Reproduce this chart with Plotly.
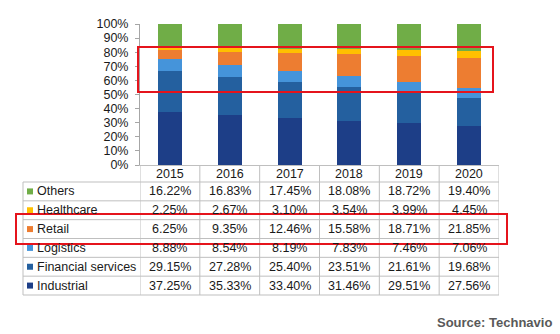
import plotly.graph_objects as go

# Market share by end-user segment (%)
years = ["2015", "2016", "2017", "2018", "2019", "2020"]
segments = ["Others", "Healthcare", "Retail", "Logistics", "Financial services", "Industrial"]
others = [16.22, 16.83, 17.45, 18.08, 18.72, 19.40]
healthcare = [2.25, 2.67, 3.10, 3.54, 3.99, 4.45]
retail = [6.25, 9.35, 12.46, 15.58, 18.71, 21.85]
logistics = [8.88, 8.54, 8.19, 7.83, 7.46, 7.06]
financial = [29.15, 27.28, 25.40, 23.51, 21.61, 19.68]
industrial = [37.25, 35.33, 33.40, 31.46, 29.51, 27.56]
colors = ["#70AD47", "#FFC000", "#ED7D31", "#4594DA", "#24609F", "#1D3E87"]

series = [others, healthcare, retail, logistics, financial, industrial]

W, H = 560, 334
FONT = "Liberation Sans, Arial, sans-serif"
FS = 12.5
TXT = "#1A1A1A"
GRID = "#BFBFBF"


def px(x):
    return x / W


def py(y):
    return 1 - y / H


fig = go.Figure()

# stack from the bottom: Industrial first, Others on top
for name, vals, col in reversed(list(zip(segments, series, colors))):
    fig.add_trace(go.Bar(
        x=years, y=vals, name=name, width=0.4,
        marker=dict(color=col, line=dict(width=0)),
        showlegend=False,
    ))

# plot area geometry (pixels)
x_left, x_right = 140, 499
y_top, y_axis = 24, 165
tbl_left = 23
hdr_bottom = 182
tbl_bottom = 295
row_h = (tbl_bottom - hdr_bottom) / len(segments)

shapes = []
annotations = []

# vertical grid of the data table (column boundaries follow the category axis)
for k in range(len(years) + 1):
    shapes.append(dict(type="line", xref="x", yref="paper",
                       x0=k - 0.5, x1=k - 0.5, y0=py(y_axis), y1=py(tbl_bottom),
                       line=dict(color=GRID, width=1)))
# left border of the label column
shapes.append(dict(type="line", xref="paper", yref="paper",
                   x0=px(tbl_left), x1=px(tbl_left), y0=py(hdr_bottom), y1=py(tbl_bottom),
                   line=dict(color=GRID, width=1)))
# horizontal row lines
for r in range(len(segments) + 1):
    y = hdr_bottom + r * row_h
    shapes.append(dict(type="line", xref="paper", yref="paper",
                       x0=px(tbl_left), x1=px(x_right), y0=py(y), y1=py(y),
                       line=dict(color=GRID, width=1)))

# header row: years
for i, yr in enumerate(years):
    annotations.append(dict(x=i, y=py((y_axis + hdr_bottom) / 2), xref="x", yref="paper",
                            text=yr, showarrow=False, xanchor="center", yanchor="middle",
                            font=dict(family=FONT, size=FS, color=TXT)))

# table body
for r, (name, vals, col) in enumerate(zip(segments, series, colors)):
    yc = hdr_bottom + (r + 0.5) * row_h
    shapes.append(dict(type="rect", xref="paper", yref="paper",
                       x0=px(27), x1=px(33), y0=py(yc + 3), y1=py(yc - 3),
                       fillcolor=col, line=dict(width=0)))
    annotations.append(dict(x=px(35), y=py(yc), xref="paper", yref="paper",
                            text=name, showarrow=False, xanchor="left", yanchor="middle",
                            font=dict(family=FONT, size=FS, color=TXT)))
    for i, v in enumerate(vals):
        annotations.append(dict(x=i, y=py(yc), xref="x", yref="paper",
                                text=f"{v:.2f}%", showarrow=False,
                                xanchor="center", yanchor="middle",
                                font=dict(family=FONT, size=FS, color=TXT)))

# highlight boxes
RED = "#E5141C"
shapes.append(dict(type="rect", xref="paper", yref="paper",
                   x0=px(138), x1=px(493), y0=py(92), y1=py(47),
                   line=dict(color=RED, width=2), fillcolor="rgba(0,0,0,0)"))
shapes.append(dict(type="rect", xref="paper", yref="paper",
                   x0=px(16), x1=px(507), y0=py(244), y1=py(214),
                   line=dict(color=RED, width=2), fillcolor="rgba(0,0,0,0)"))

annotations.append(dict(x=px(554), y=py(322), xref="paper", yref="paper",
                        text="<b>Source: Technavio</b>", showarrow=False,
                        xanchor="right", yanchor="middle",
                        font=dict(family=FONT, size=13, color="#595959")))

fig.update_layout(
    width=W, height=H, autosize=False,
    margin=dict(l=0, r=0, t=0, b=0, pad=0, autoexpand=False),
    paper_bgcolor="white", plot_bgcolor="white",
    barmode="stack", bargap=0,
    xaxis=dict(domain=[px(x_left), px(x_right)], type="category",
               range=[-0.5, len(years) - 0.5], showticklabels=False,
               showgrid=False, zeroline=False, showline=True, automargin=False,
               linecolor=GRID, linewidth=1, ticks=""),
    yaxis=dict(domain=[py(y_axis), py(y_top)], range=[0, 100], dtick=10,
               ticksuffix="%", ticks="outside", ticklen=4, tickcolor="#A6A6A6",
               ticklabelstandoff=4,
               showgrid=False, zeroline=False, showline=True, automargin=False,
               linecolor="#A6A6A6", linewidth=1,
               tickfont=dict(family=FONT, size=FS, color=TXT)),
    shapes=shapes,
    annotations=annotations,
)

fig.write_html("out.html")
